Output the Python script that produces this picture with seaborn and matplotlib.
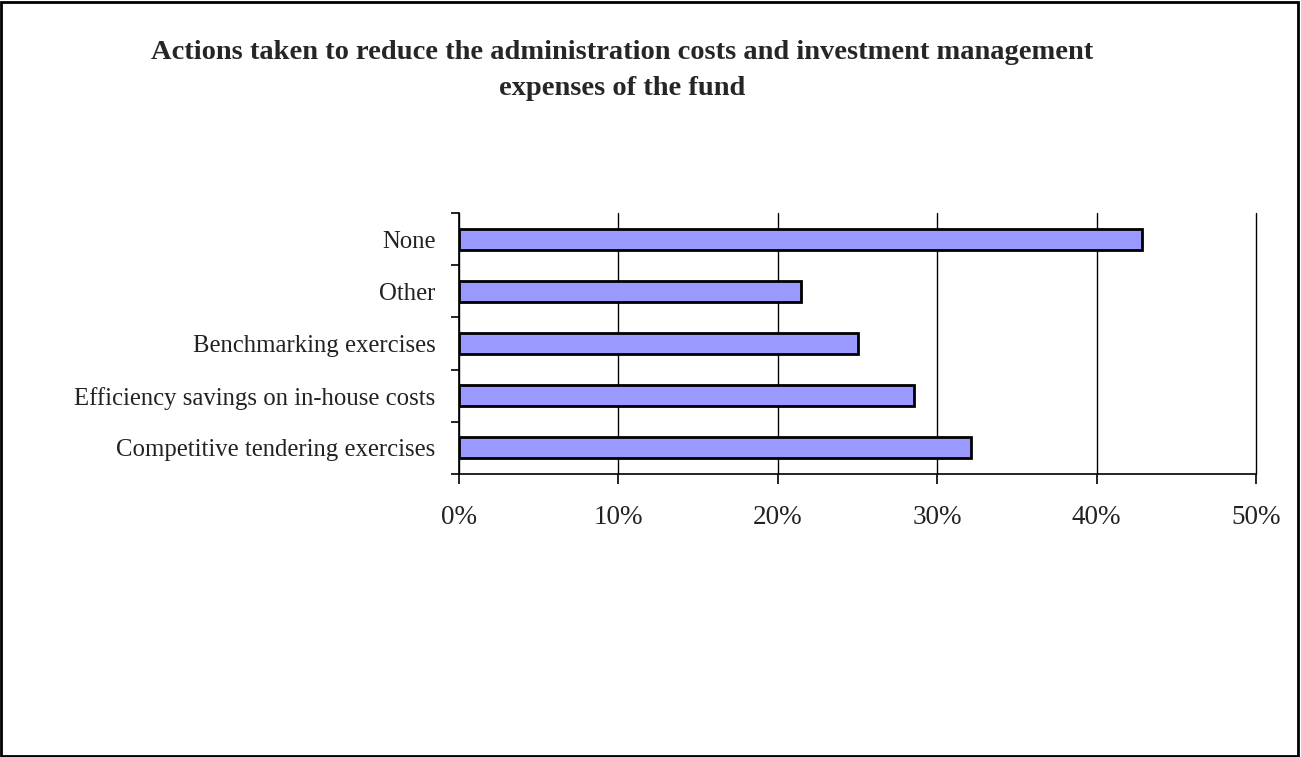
import matplotlib
matplotlib.use("Agg")
import matplotlib.pyplot as plt
import seaborn as sns
import pandas as pd
from matplotlib.ticker import FixedLocator, PercentFormatter

categories = ["None", "Other", "Benchmarking exercises",
              "Efficiency savings on in-house costs", "Competitive tendering exercises"]
values = [42.86, 21.43, 25.0, 28.57, 32.14]
xticks = [0, 10, 20, 30, 40, 50]

sns.set_theme(style="white")
plt.rcParams['font.family'] = ['Liberation Serif', 'DejaVu Serif']

df = pd.DataFrame({"category": categories, "value": values})

fig = plt.figure(figsize=(13.01, 7.57), dpi=100)
ax = fig.add_axes([459/1301, 283/757, 797/1301, 261/757])

sns.barplot(data=df, y="category", x="value", orient="h", ax=ax,
            color="#9999FF", saturation=1, width=0.4,
            edgecolor="black", linewidth=2, order=categories)

ax.set_xlim(0, 50)
ax.set_ylim(len(categories) - 0.5, -0.5)
ax.xaxis.set_major_locator(FixedLocator(xticks))
ax.xaxis.set_major_formatter(PercentFormatter(decimals=0))
ax.set_xlabel("")
ax.set_ylabel("")
ax.grid(axis="x", color="black", linewidth=1)
for gl in ax.get_xgridlines():
    gl.set_clip_on(False)
ax.set_axisbelow(True)
for s in ["top", "right"]:
    ax.spines[s].set_visible(False)
for s in ["left", "bottom"]:
    ax.spines[s].set_color("black")
    ax.spines[s].set_linewidth(1.2)

ax.tick_params(axis="x", bottom=True, direction="out", length=7, width=1.2,
               colors="black", labelsize=19.5, pad=15)
ax.tick_params(axis="y", left=False, labelsize=17.8, pad=11, colors="black")
ax.yaxis.set_minor_locator(FixedLocator([i - 0.5 for i in range(len(categories) + 1)]))
ax.tick_params(axis="y", which="minor", left=True, direction="out", length=6, width=1.2, color="black")
for lbl in ax.get_xticklabels() + ax.get_yticklabels():
    lbl.set_color("#222222")

fig.text(0.478, 0.907, "Actions taken to reduce the administration costs and investment management\nexpenses of the fund",
         ha="center", va="center", fontsize=20.5, fontweight="bold", linespacing=1.55,
         family=['Liberation Serif', 'DejaVu Serif'])

border = plt.Rectangle((0.001, 0.001), 0.997, 0.997, transform=fig.transFigure,
                       fill=False, edgecolor="black", linewidth=2)
fig.patches.append(border)

fig.savefig("out.png", dpi=100)
